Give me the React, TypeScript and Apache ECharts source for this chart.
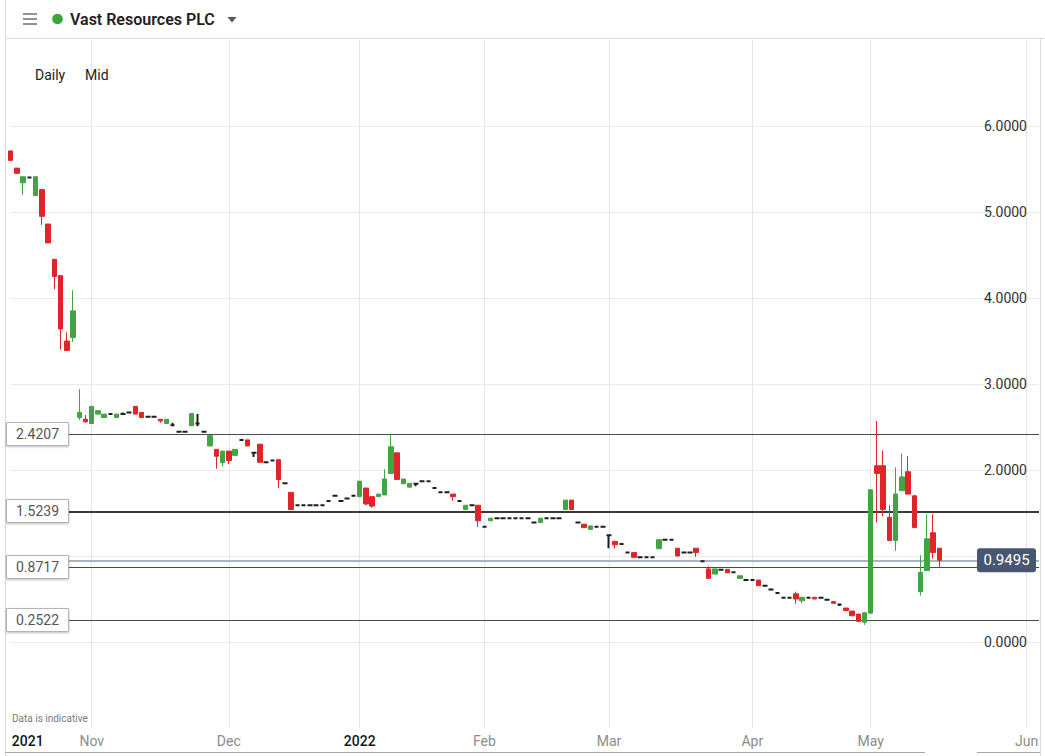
import React, { useEffect, useRef } from "react";
import * as echarts from "echarts";

// ---------- DATA ----------
const firstTradingDay = "2021-10-13";
const tradingDayCount = 150;
const ukHolidays = ["2021-12-27", "2021-12-28", "2022-01-03", "2022-04-15", "2022-04-18", "2022-05-02"];
// empty slots to the right of the last candle
const futureSlots = [
  "2022-05-19", "2022-05-20", "2022-05-21", "2022-05-22", "2022-05-23", "2022-05-24", "2022-05-25", "2022-05-26",
  "2022-05-27", "2022-05-28", "2022-05-29", "2022-05-30", "2022-05-31", "2022-06-01", "2022-06-02", "2022-06-03",
];
const monthNames = ["Jan", "Feb", "Mar", "Apr", "May", "Jun", "Jul", "Aug", "Sep", "Oct", "Nov", "Dec"];

const openPrices = [
  5.71, 5.51, 5.34, 5.40, 5.19, 5.26, 4.86, 4.45, 4.26, 3.50,
  3.54, 2.61, 2.59, 2.54, 2.65, 2.61, 2.65, 2.61, 2.65, 2.67,
  2.74, 2.67, 2.62, 2.62, 2.59, 2.54, 2.52, 2.445, 2.445, 2.515,
  2.54, 2.445, 2.28, 2.24, 2.085, 2.22, 2.17, 2.35, 2.35, 2.20,
  2.30, 2.09, 2.11, 2.12, 1.845, 1.74, 1.59, 1.59, 1.59, 1.59,
  1.59, 1.64, 1.70, 1.64, 1.67, 1.70, 1.69, 1.79, 1.69, 1.69,
  1.71, 1.96, 2.20, 1.84, 1.80, 1.84, 1.87, 1.87, 1.79, 1.74,
  1.74, 1.72, 1.64, 1.54, 1.59, 1.59, 1.34, 1.41, 1.44, 1.44,
  1.44, 1.44, 1.44, 1.44, 1.39, 1.39, 1.44, 1.44, 1.44, 1.54,
  1.65, 1.39, 1.37, 1.31, 1.34, 1.34, 1.24, 1.17, 1.14, 1.04,
  1.04, 0.985, 0.985, 0.985, 1.085, 1.19, 1.19, 1.09, 1.04, 1.04,
  1.09, 0.94, 0.85, 0.79, 0.84, 0.845, 0.81, 0.74, 0.72, 0.72,
  0.72, 0.655, 0.61, 0.57, 0.515, 0.515, 0.56, 0.48, 0.515, 0.52,
  0.515, 0.49, 0.47, 0.435, 0.395, 0.36, 0.325, 0.23, 0.335, 2.05,
  2.05, 1.45, 1.18, 1.76, 1.98, 1.70, 0.585, 0.83, 1.27, 1.09,
];
const closePrices = [
  5.60, 5.45, 5.41, 5.40, 5.41, 4.95, 4.64, 4.25, 3.64, 3.39,
  3.85, 2.67, 2.56, 2.74, 2.69, 2.65, 2.65, 2.65, 2.65, 2.67,
  2.65, 2.61, 2.62, 2.62, 2.57, 2.59, 2.52, 2.445, 2.445, 2.655,
  2.54, 2.445, 2.40, 2.16, 2.22, 2.11, 2.24, 2.35, 2.28, 2.20,
  2.09, 2.09, 2.11, 1.89, 1.845, 1.54, 1.59, 1.59, 1.59, 1.59,
  1.59, 1.64, 1.70, 1.64, 1.67, 1.70, 1.87, 1.605, 1.58, 1.72,
  1.895, 2.27, 1.89, 1.895, 1.845, 1.84, 1.87, 1.87, 1.79, 1.74,
  1.74, 1.69, 1.64, 1.59, 1.59, 1.41, 1.34, 1.44, 1.44, 1.44,
  1.44, 1.44, 1.44, 1.44, 1.39, 1.44, 1.44, 1.44, 1.44, 1.65,
  1.54, 1.39, 1.33, 1.35, 1.34, 1.34, 1.24, 1.13, 1.14, 1.04,
  0.985, 0.985, 0.985, 0.985, 1.19, 1.19, 1.19, 1.00, 1.04, 1.04,
  1.04, 0.94, 0.74, 0.85, 0.84, 0.805, 0.81, 0.77, 0.72, 0.72,
  0.655, 0.655, 0.61, 0.57, 0.515, 0.515, 0.50, 0.52, 0.515, 0.50,
  0.515, 0.49, 0.45, 0.435, 0.365, 0.305, 0.24, 0.34, 1.77, 1.96,
  1.54, 1.18, 1.72, 1.92, 1.72, 1.33, 0.81, 1.20, 1.04, 0.9495,
];
const lowPrices = [
  5.60, 5.45, 5.20, 5.40, 5.19, 4.85, 4.64, 4.10, 3.40, 3.39,
  3.49, 2.58, 2.55, 2.54, 2.65, 2.61, 2.65, 2.61, 2.64, 2.67,
  2.65, 2.61, 2.62, 2.62, 2.55, 2.54, 2.52, 2.445, 2.445, 2.515,
  2.51, 2.445, 2.28, 2.015, 2.04, 2.07, 2.17, 2.35, 2.28, 2.15,
  2.09, 2.09, 2.11, 1.79, 1.845, 1.54, 1.59, 1.59, 1.59, 1.59,
  1.59, 1.64, 1.70, 1.64, 1.67, 1.70, 1.69, 1.59, 1.56, 1.69,
  1.71, 1.96, 1.89, 1.84, 1.80, 1.81, 1.87, 1.87, 1.79, 1.74,
  1.74, 1.64, 1.64, 1.54, 1.59, 1.34, 1.34, 1.41, 1.44, 1.44,
  1.44, 1.44, 1.44, 1.44, 1.39, 1.39, 1.44, 1.44, 1.44, 1.54,
  1.54, 1.39, 1.33, 1.30, 1.34, 1.34, 1.09, 1.085, 1.14, 1.04,
  0.985, 0.985, 0.985, 0.985, 1.085, 1.19, 1.19, 1.00, 1.04, 1.04,
  0.99, 0.94, 0.74, 0.79, 0.84, 0.805, 0.81, 0.74, 0.72, 0.72,
  0.655, 0.655, 0.61, 0.57, 0.515, 0.515, 0.445, 0.45, 0.515, 0.50,
  0.515, 0.49, 0.45, 0.42, 0.365, 0.305, 0.24, 0.20, 0.335, 1.39,
  1.465, 1.18, 1.06, 1.76, 1.72, 1.33, 0.54, 0.83, 0.97, 0.865,
];
const highPrices = [
  5.71, 5.51, 5.41, 5.40, 5.41, 5.26, 4.86, 4.45, 4.26, 3.60,
  4.09, 2.94, 2.64, 2.74, 2.69, 2.65, 2.65, 2.65, 2.67, 2.67,
  2.74, 2.67, 2.62, 2.62, 2.59, 2.59, 2.55, 2.445, 2.445, 2.655,
  2.65, 2.445, 2.40, 2.24, 2.22, 2.22, 2.24, 2.35, 2.35, 2.20,
  2.30, 2.09, 2.11, 2.12, 1.845, 1.74, 1.59, 1.59, 1.59, 1.59,
  1.59, 1.64, 1.70, 1.64, 1.67, 1.70, 1.87, 1.79, 1.69, 1.72,
  2.01, 2.415, 2.20, 1.895, 1.845, 1.84, 1.87, 1.87, 1.79, 1.74,
  1.74, 1.72, 1.64, 1.59, 1.59, 1.59, 1.34, 1.44, 1.44, 1.44,
  1.44, 1.44, 1.44, 1.44, 1.39, 1.44, 1.44, 1.44, 1.44, 1.65,
  1.65, 1.39, 1.37, 1.35, 1.34, 1.34, 1.24, 1.17, 1.14, 1.04,
  1.04, 0.985, 0.985, 0.985, 1.19, 1.19, 1.19, 1.09, 1.04, 1.04,
  1.09, 0.94, 0.88, 0.85, 0.84, 0.845, 0.81, 0.77, 0.72, 0.72,
  0.72, 0.655, 0.61, 0.57, 0.515, 0.515, 0.585, 0.52, 0.515, 0.52,
  0.515, 0.49, 0.47, 0.435, 0.395, 0.36, 0.325, 0.34, 1.77, 2.57,
  2.225, 1.59, 2.03, 2.19, 2.16, 1.71, 1.01, 1.485, 1.485, 1.09,
];

const supportLevels = [2.4207, 1.5239, 0.8717, 0.2522];
const heavyLevel = 1.5239;
const lastPrice = 0.9495;
const yTicks = { min: -1, max: 7, interval: 1 };

// ---------- helpers ----------
const pad = (n: number) => (n < 10 ? "0" + n : "" + n);
const fmt = (d: Date) => `${d.getUTCFullYear()}-${pad(d.getUTCMonth() + 1)}-${pad(d.getUTCDate())}`;

function buildTradingDays(): string[] {
  const out: string[] = [];
  const d = new Date(firstTradingDay + "T00:00:00Z");
  while (out.length < tradingDayCount) {
    const wd = d.getUTCDay();
    const s = fmt(d);
    if (wd !== 0 && wd !== 6 && !ukHolidays.includes(s)) out.push(s);
    d.setUTCDate(d.getUTCDate() + 1);
  }
  return out;
}

const FONT = 'Roboto, "Open Sans", "Liberation Sans", sans-serif';
const UP = "#43a443";
const DOWN = "#e0242a";
const DOJI = "#1e1e1e";

export default function App() {
  const ref = useRef<HTMLDivElement>(null);

  useEffect(() => {
    if (!ref.current) return;
    const categories = [...buildTradingDays(), ...futureSlots];

    const labelMap = new Map<string, string>();
    const gridSet = new Set<string>();
    categories.forEach((c, i) => {
      const [y, m] = c.split("-").map(Number);
      if (i === 0) {
        labelMap.set(c, `{yr0|${y}}`);
        return;
      }
      const pm = Number(categories[i - 1].split("-")[1]);
      if (pm !== m) {
        gridSet.add(c);
        labelMap.set(c, m === 1 ? `{yr|${y}}` : `{mo|${monthNames[m - 1]}}`);
      }
    });

    const candleData = openPrices.map((o, i) => {
      const c = closePrices[i];
      const v = [o, c, lowPrices[i], highPrices[i]];
      if (o === c) {
        return {
          value: v,
          itemStyle: {
            color: DOJI, color0: DOJI, borderColor: DOJI, borderColor0: DOJI,
            borderColorDoji: DOJI, borderWidth: 2,
          },
        };
      }
      return { value: v };
    });

    const chart = echarts.init(ref.current, null, { renderer: "svg" });
    const option: any = {
      animation: false,
      backgroundColor: "#ffffff",
      textStyle: { fontFamily: FONT },
      grid: { left: 10.7, right: 6, top: 40, bottom: 28, containLabel: false },
      xAxis: {
        type: "category",
        data: categories,
        boundaryGap: false,
        axisLine: { show: false },
        axisTick: { show: false },
        axisLabel: {
          interval: (index: number, value: string) => labelMap.has(value),
          formatter: (value: string) => labelMap.get(value) || "",
          margin: 6,
          rich: {
            yr0: { color: "#151515", fontSize: 14, fontWeight: 500, fontFamily: FONT, padding: [0, 0, 0, 34] },
            yr: { color: "#151515", fontSize: 14, fontWeight: 500, fontFamily: FONT },
            mo: { color: "#8c8c8c", fontSize: 14, fontFamily: FONT },
          },
        },
        splitLine: {
          show: true,
          interval: (index: number, value: string) => gridSet.has(value),
          lineStyle: { color: "#e6e6e6", width: 1 },
        },
      },
      yAxis: {
        type: "value",
        position: "right",
        min: yTicks.min,
        max: yTicks.max,
        interval: yTicks.interval,
        axisLine: { show: false },
        axisTick: { show: false },
        axisLabel: {
          inside: true,
          margin: 12,
          color: "#333333",
          fontSize: 14,
          fontFamily: FONT,
          // the tick label hidden under the last-price tag is not shown
          formatter: (v: number) =>
            v >= 0 && v <= 6 && Math.abs(v - lastPrice) > 0.15 ? v.toFixed(4) : "",
        },
        splitLine: {
          show: true,
          showMinLine: false,
          showMaxLine: false,
          lineStyle: { color: "#ebebeb", width: 1 },
        },
      },
      series: [
        {
          type: "candlestick",
          data: candleData,
          barWidth: 5,
          clip: false,
          itemStyle: {
            color: UP,
            color0: DOWN,
            borderColor: UP,
            borderColor0: DOWN,
            borderColorDoji: DOJI,
            borderWidth: 1,
          },
          markLine: {
            silent: true,
            symbol: ["none", "none"],
            label: { show: false },
            z: 1,
            data: [
              { yAxis: lastPrice, lineStyle: { color: "#aab3c0", width: 2, type: "solid" } },
              ...supportLevels.map((lv) => ({
                yAxis: lv,
                lineStyle: {
                  color: lv === heavyLevel ? "#3a3a3a" : "#4a4a4a",
                  width: lv === heavyLevel ? 2 : 1,
                  type: "solid",
                },
              })),
            ],
          },
        },
      ],
    };
    chart.setOption(option);

    const yPix = (v: number) => chart.convertToPixel({ yAxisIndex: 0 }, v) as number;
    const graphics: any[] = [
      // frame
      { type: "line", z: 50, shape: { x1: 5.5, y1: 0, x2: 5.5, y2: 756 }, style: { stroke: "#d9d9d9", lineWidth: 1 } },
      { type: "line", z: 50, shape: { x1: 5, y1: 38.5, x2: 1045, y2: 38.5 }, style: { stroke: "#dcdcdc", lineWidth: 1 } },
      { type: "line", z: 50, shape: { x1: 1040.5, y1: 38, x2: 1040.5, y2: 756 }, style: { stroke: "#dedede", lineWidth: 1 } },
      { type: "line", z: 50, shape: { x1: 5, y1: 752.5, x2: 925, y2: 752.5 }, style: { stroke: "#a8a8a8", lineWidth: 1 } },
      { type: "line", z: 50, shape: { x1: 977, y1: 752.5, x2: 1040, y2: 752.5 }, style: { stroke: "#a8a8a8", lineWidth: 1 } },
      // header
      ...[14, 19, 24].map((y) => ({
        type: "line", z: 50, shape: { x1: 23, y1: y, x2: 37, y2: y }, style: { stroke: "#777777", lineWidth: 1.6 },
      })),
      { type: "circle", z: 50, shape: { cx: 57.5, cy: 19, r: 5.3 }, style: { fill: "#3aa53a" } },
      {
        type: "text", z: 50, x: 70, y: 19,
        style: { text: "Vast Resources PLC", fill: "#222222", fontSize: 16, fontWeight: 600, fontFamily: FONT, textVerticalAlign: "middle" },
      },
      { type: "polygon", z: 50, shape: { points: [[227.5, 17], [236.5, 17], [232, 22.5]] }, style: { fill: "#555555" } },
      {
        type: "text", z: 50, x: 35, y: 75,
        style: { text: "Daily", fill: "#222222", fontSize: 14, fontFamily: FONT, textVerticalAlign: "middle" },
      },
      {
        type: "text", z: 50, x: 85, y: 75,
        style: { text: "Mid", fill: "#222222", fontSize: 14, fontFamily: FONT, textVerticalAlign: "middle" },
      },
      {
        type: "text", z: 50, x: 12, y: 718,
        style: { text: "Data is indicative", fill: "#7a7a7a", fontSize: 10, fontFamily: FONT, textVerticalAlign: "middle" },
      },
    ];

    supportLevels.forEach((lv) => {
      const y = Math.round(yPix(lv));
      graphics.push({
        type: "rect", z: 60,
        shape: { x: 6.5, y: y - 11.5, width: 62, height: 23 },
        style: { fill: "#ffffff", stroke: "#b4b4b4", lineWidth: 1, shadowBlur: 2, shadowOffsetY: 1, shadowColor: "rgba(0,0,0,0.25)" },
      });
      graphics.push({
        type: "text", z: 61, x: 37.5, y: y,
        style: { text: lv.toFixed(4), fill: "#555555", fontSize: 14, fontFamily: FONT, textAlign: "center", textVerticalAlign: "middle" },
      });
    });

    const py = yPix(lastPrice);
    graphics.push({
      type: "rect", z: 60,
      shape: { x: 977, y: py - 12, width: 59, height: 24, r: 3 },
      style: { fill: "#475671" },
    });
    graphics.push({
      type: "text", z: 61, x: 1006.5, y: py,
      style: { text: lastPrice.toFixed(4), fill: "#ffffff", fontSize: 15, fontFamily: FONT, textAlign: "center", textVerticalAlign: "middle" },
    });

    chart.setOption({ graphic: graphics });

    return () => chart.dispose();
  }, []);

  return (
    <div
      ref={ref}
      style={{ position: "fixed", left: 0, top: 0, width: 1045, height: 756, background: "#fff" }}
    />
  );
}
